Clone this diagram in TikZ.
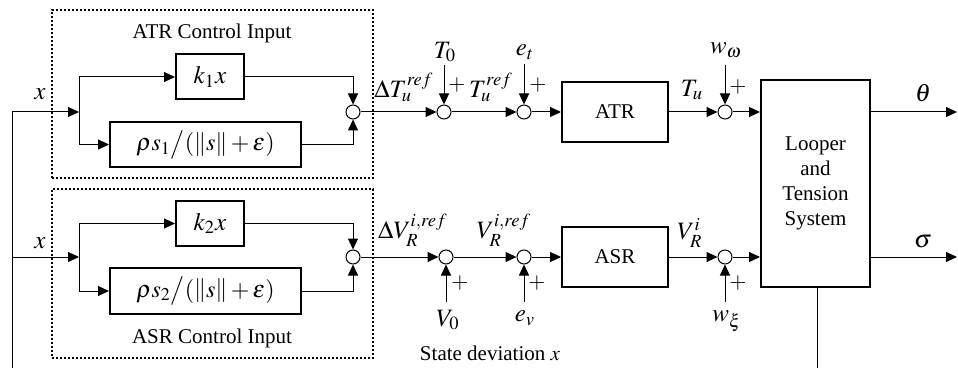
\documentclass[tikz,border=0pt]{standalone}
\usepackage{amsmath}
\usepackage{mathptmx}
\usepackage[no-math]{fontspec}
\setmainfont{Liberation Serif}
\usetikzlibrary{arrows.meta, calc}

\begin{document}
\begin{tikzpicture}[
  x=0.5pt, y=0.5pt,
  block/.style={rectangle, draw=black, line width=1pt, inner sep=0pt,
    align=center, font=\fontsize{10.5}{12.5}\selectfont},
  mblock/.style={block, font=\fontsize{12.5}{14}\selectfont},
  sumnode/.style={circle, draw=black, line width=0.5pt, fill=white,
    minimum size=7pt, inner sep=0pt},
  txt/.style={font=\fontsize{10.5}{12.5}\selectfont, inner sep=0pt},
  mth/.style={font=\fontsize{12.5}{14}\selectfont, inner sep=0pt},
  sgn/.style={font=\fontsize{11}{13}\selectfont, inner sep=0pt},
  panel/.style={rectangle, draw=black, line width=1pt,
    dash pattern=on 1pt off 1pt, inner sep=0pt},
  wire/.style={line width=0.5pt},
  arr/.style={-{Triangle[length=5.5pt, width=5pt]}, line width=0.5pt},
]
\useasboundingbox (0,0) rectangle (958,370);
% ====== CONTROL INPUT PANELS ======
\node[panel, minimum width=160.5pt, minimum height=84pt] (a_panel) at (212.5,276) {};
\node[panel, minimum width=160.5pt, minimum height=84.5pt] (b_panel) at (212.5,96.5) {};
\node[txt] (a_title) at (212,337) {ATR Control Input};
\node[txt] (b_title) at (212,32) {ASR Control Input};
%
% ====== ATR CONTROL INPUT ======
\coordinate (a_br) at (79,258);
\node[mblock, minimum width=34pt, minimum height=22.5pt] (a_k) at (210,293) {$k_1x$};
\node[mblock, font=\fontsize{12}{14}\selectfont, minimum width=95.5pt,
  minimum height=22.5pt] (a_rho) at (205.5,225.5)
  {$\rho s_1\big/\!\left(\left\|s\right\|+\varepsilon\right)$};
\node[sumnode] (a_sum) at (353,258) {};
\draw[arr] (a_br) |- (a_k.west);
\draw[arr] (a_br) |- (a_rho.west);
\draw[arr] (a_k.east) -| (a_sum.north);
\draw[arr] (a_rho.east) -| (a_sum.south);
%
% ====== ASR CONTROL INPUT ======
\coordinate (b_br) at (79,113);
\node[mblock, minimum width=34pt, minimum height=22.5pt] (b_k) at (210,146.5) {$k_2x$};
\node[mblock, font=\fontsize{12}{14}\selectfont, minimum width=95.5pt,
  minimum height=23pt] (b_rho) at (205.5,79)
  {$\rho s_2\big/\!\left(\left\|s\right\|+\varepsilon\right)$};
\node[sumnode] (b_sum) at (353,113) {};
\draw[arr] (b_br) |- (b_k.west);
\draw[arr] (b_br) |- (b_rho.west);
\draw[arr] (b_k.east) -| (b_sum.north);
\draw[arr] (b_rho.east) -| (b_sum.south);
%
% ====== STATE DEVIATION INPUT ======
\coordinate (fb_top) at (12,258);
\coordinate (fb_mid) at (12,113);
\coordinate (fb_bot) at (12,2);
\draw[wire] (fb_bot) -- (fb_top);
\draw[arr] (fb_top) -- (a_br);
\draw[arr] (fb_mid) -- (b_br);
\node[mth] (a_x) at (40,276) {$x$};
\node[mth] (b_x) at (40,127) {$x$};
%
% ====== TENSION LOOP (ATR) ======
\node[sumnode] (a_tsum) at (444,258) {};
\node[sumnode] (a_esum) at (524,258) {};
\node[block, minimum width=53pt, minimum height=30pt] (atr) at (615,258) {ATR};
\node[sumnode] (a_wsum) at (725,258) {};
\node[mth] (a_dT) at (404,283) {$\Delta T_u^{ref}$};
\node[mth] (a_T0) at (445,318) {$T_0$};
\node[mth] (a_Tref) at (491,283) {$T_u^{ref}$};
\node[mth] (a_et) at (525,318) {$e_t$};
\node[mth] (a_Tu) at (692,280) {$T_u$};
\node[mth] (a_w) at (726,320) {$w_\omega$};
\node[sgn] at ($(a_tsum)+(13,27)$) {$+$};
\node[sgn] at ($(a_esum)+(14,27)$) {$+$};
\node[sgn] at ($(a_wsum)+(13,25)$) {$+$};
\draw[arr] (a_sum) -- (a_tsum);
\draw[arr] (a_tsum) -- (a_esum);
\draw[arr] (a_esum) -- (atr);
\draw[arr] (atr) -- (a_wsum);
\draw[arr] (a_tsum |- 0,305) -- (a_tsum.north);
\draw[arr] (a_esum |- 0,306) -- (a_esum.north);
\draw[arr] (a_wsum |- 0,305) -- (a_wsum.north);
%
% ====== SPEED LOOP (ASR) ======
\node[sumnode] (b_vsum) at (446,113) {};
\node[sumnode] (b_esum) at (524,113) {};
\node[block, minimum width=53pt, minimum height=30pt] (asr) at (615,113) {ASR};
\node[sumnode] (b_wsum) at (725,113) {};
\node[mth] (b_dV) at (413,140) {$\Delta V_R^{i,ref}$};
\node[mth] (b_V0) at (448,50) {$V_0$};
\node[mth] (b_Vref) at (504,140) {$V_R^{i,ref}$};
\node[mth] (b_ev) at (525,52) {$e_v$};
\node[mth] (b_VR) at (690,137) {$V_R^i$};
\node[mth] (b_w) at (727,49) {$w_\xi$};
\node[sgn] at ($(b_vsum)+(14,-26)$) {$+$};
\node[sgn] at ($(b_esum)+(13,-26)$) {$+$};
\node[sgn] at ($(b_wsum)+(13,-26)$) {$+$};
\node[txt] (b_state) at (490,17) {State deviation $x$};
\draw[arr] (b_sum) -- (b_vsum);
\draw[arr] (b_vsum) -- (b_esum);
\draw[arr] (b_esum) -- (asr);
\draw[arr] (asr) -- (b_wsum);
\draw[arr] (b_vsum |- 0,68) -- (b_vsum.south);
\draw[arr] (b_esum |- 0,68) -- (b_esum.south);
\draw[arr] (b_wsum |- 0,68) -- (b_wsum.south);
%
% ====== LOOPER AND TENSION SYSTEM ======
\node[block, minimum width=54.5pt, minimum height=103.5pt] (loop) at (815.5,186.5)
  {Looper\\and\\Tension\\System};
\coordinate (theta_end) at (957,258);
\coordinate (sigma_end) at (957,113);
\coordinate (fb_out) at (817,2);
\draw[arr] (a_wsum) -- (a_wsum -| loop.west);
\draw[arr] (b_wsum) -- (b_wsum -| loop.west);
\draw[arr] (a_wsum -| loop.east) -- (theta_end);
\draw[arr] (b_wsum -| loop.east) -- (sigma_end);
\draw[wire] (fb_out |- loop.south) -- (fb_out);
\node[mth] (theta) at (923,277) {$\theta$};
\node[mth] (sigma) at (923,128) {$\sigma$};
\end{tikzpicture}
\end{document}
